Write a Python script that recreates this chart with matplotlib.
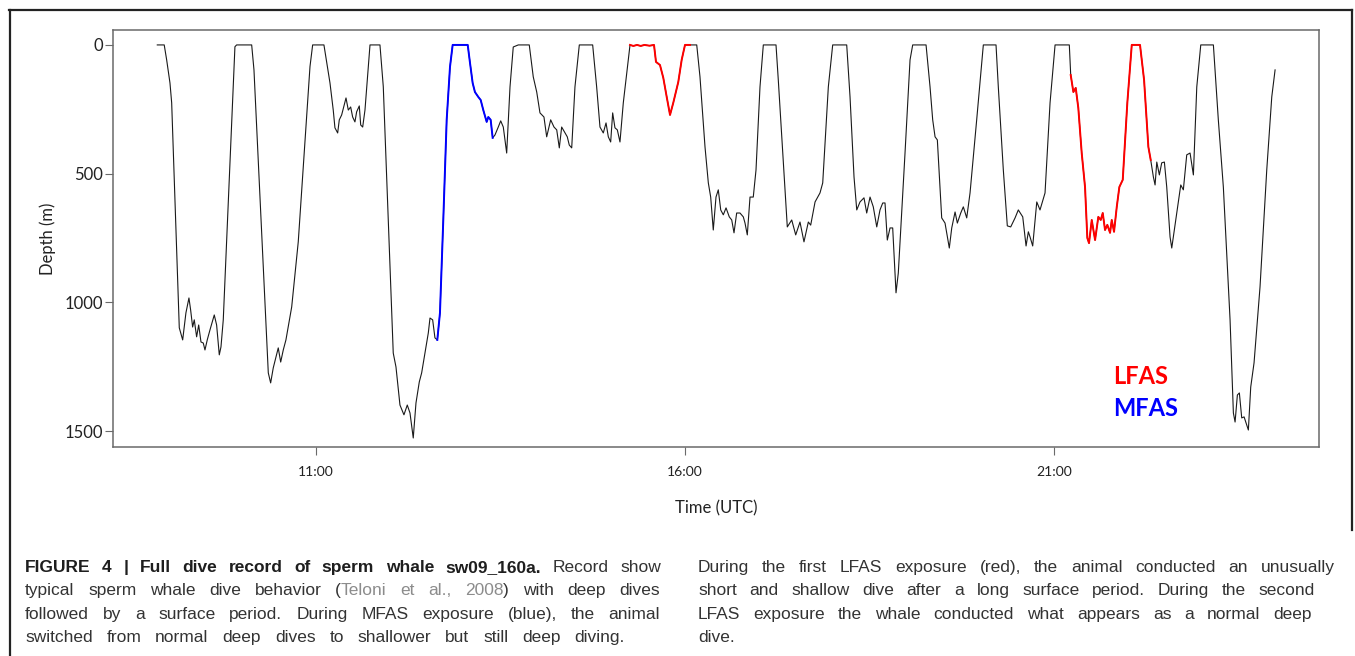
import numpy as np
import matplotlib
matplotlib.use("Agg")
import matplotlib.pyplot as plt
from matplotlib.lines import Line2D
from matplotlib.ticker import FixedLocator, FuncFormatter

# === Data: dive record of sw09_160a (time in decimal hours UTC, depth in m) ===
time_h = [
    # dive 1
    8.850, 8.944, 8.977, 9.022, 9.045, 9.148, 9.194, 9.238, 9.279, 9.302, 9.329, 9.351,
    9.383, 9.411, 9.442, 9.473, 9.496, 9.527, 9.564, 9.622, 9.654, 9.690, 9.713, 9.744,
    9.902, 9.925, 10.129,
    # dive 2
    10.160, 10.354, 10.386, 10.421, 10.489, 10.522, 10.557, 10.593, 10.671, 10.760,
    10.919, 10.955, 11.108,
    # dive 3
    11.190, 11.234, 11.257, 11.294, 11.316, 11.348, 11.407, 11.438, 11.470, 11.497,
    11.528, 11.551, 11.587, 11.606, 11.633, 11.664, 11.732, 11.867,
    # dive 4 (MFAS during ascent)
    11.912, 11.980, 12.047, 12.084, 12.138, 12.192, 12.237, 12.274, 12.318, 12.355,
    12.400, 12.432, 12.477, 12.522, 12.545, 12.581, 12.612, 12.644,
    12.680, 12.725, 12.771, 12.816, 12.852, 13.056, 13.087, 13.123, 13.154, 13.199,
    13.232, 13.267, 13.313, 13.335, 13.367, 13.394,
    13.425, 13.470, 13.503, 13.538, 13.584, 13.629, 13.673, 13.741, 13.890,
    # dive 5
    13.944, 13.991, 14.035, 14.089, 14.126, 14.180, 14.225, 14.262, 14.297, 14.329,
    14.374, 14.405, 14.432, 14.465, 14.509, 14.568, 14.749,
    # dive 6
    14.803, 14.848, 14.893, 14.930, 14.961, 14.993, 15.020, 15.051, 15.083, 15.119,
    15.164, 15.255,
    # first LFAS: short shallow dive
    15.300, 15.350, 15.400, 15.450, 15.520, 15.580, 15.607, 15.661, 15.706, 15.752,
    15.797, 15.841, 15.909, 15.955, 16.000, 16.068,
    # dive 7
    16.159, 16.203, 16.271, 16.316, 16.348, 16.383, 16.420, 16.451, 16.484, 16.519,
    16.556, 16.600, 16.633, 16.664, 16.700, 16.745, 16.790, 16.813, 16.844, 16.881,
    16.925, 16.962, 17.016, 17.061, 17.233,
    # dive 8
    17.264, 17.332, 17.386, 17.446, 17.500, 17.558, 17.612, 17.671, 17.703, 17.762,
    17.829, 17.866, 17.942, 18.001, 18.191,
    # dive 9
    18.236, 18.290, 18.327, 18.371, 18.425, 18.462, 18.507, 18.551, 18.598, 18.642,
    18.679, 18.710, 18.741, 18.778, 18.814, 18.859, 18.890, 18.981, 19.049, 19.085,
    19.266,
    # dive 10
    19.320, 19.356, 19.388, 19.419, 19.478, 19.523, 19.581, 19.614, 19.659, 19.690,
    19.736, 19.771, 19.817, 19.862, 19.952, 20.042, 20.214,
    # dive 11
    20.245, 20.313, 20.367, 20.413, 20.472, 20.516, 20.576, 20.621, 20.652, 20.675,
    20.711, 20.766, 20.810, 20.878, 20.946, 21.014, 21.207,
    # second LFAS
    21.226, 21.262, 21.294, 21.329, 21.375, 21.420, 21.451, 21.474, 21.511, 21.556,
    21.600, 21.633, 21.660, 21.691, 21.722, 21.759, 21.782, 21.813, 21.850, 21.885,
    21.931, 21.993, 22.053, 22.165, 22.220, 22.278, 22.310,
    # dive 12
    22.346, 22.369, 22.392, 22.427, 22.459, 22.495, 22.527, 22.572, 22.595, 22.663,
    22.717, 22.752, 22.798, 22.843, 22.888, 22.934, 22.988, 23.159,
    # dive 13
    23.226, 23.294, 23.385, 23.430, 23.453, 23.484, 23.511, 23.543, 23.575, 23.611,
    23.633, 23.665, 23.710, 23.791, 23.882, 23.950, 23.995,
]

depth_m = [
    # dive 1
    0, 0, 58, 148, 225, 1099, 1146, 1041, 983, 1030, 1096, 1068,
    1134, 1088, 1154, 1158, 1185, 1146, 1107, 1049, 1088, 1204, 1173, 1068,
    7, 0, 0,
    # dive 2
    97, 1274, 1313, 1255, 1177, 1232, 1185, 1146, 1018, 765,
    84, 0, 0,
    # dive 3
    148, 253, 322, 342, 291, 272, 206, 253, 241, 280,
    299, 260, 237, 311, 319, 253, 0, 0,
    # dive 4
    162, 680, 1197, 1251, 1399, 1437, 1399, 1430, 1527, 1391,
    1309, 1274, 1197, 1119, 1061, 1068, 1138, 1146,
    1041, 680, 291, 85, 0, 0, 70, 148, 183, 202,
    214, 253, 299, 280, 291, 361,
    350, 319, 295, 319, 420, 163, 8, 0, 0,
    # dive 5
    124, 183, 264, 280, 357, 291, 319, 330, 400, 319,
    342, 357, 389, 400, 163, 0, 0,
    # dive 6
    163, 319, 342, 303, 357, 377, 264, 322, 330, 377,
    225, 0,
    # first LFAS
    4, 0, 4, 0, 3, 0, 66, 78, 128, 202,
    272, 225, 144, 58, 0, 0,
    # dive 7
    0, 124, 396, 536, 591, 719, 591, 563, 641, 660,
    633, 668, 680, 730, 653, 653, 668, 692, 738, 591,
    591, 486, 163, 0, 0,
    # dive 8
    136, 458, 707, 680, 738, 688, 765, 688, 700, 610,
    575, 536, 163, 0, 0,
    # dive 9
    202, 513, 641, 610, 594, 653, 591, 629, 707, 641,
    614, 614, 758, 711, 711, 963, 886, 420, 58, 0,
    0,
    # dive 10
    163, 291, 357, 369, 672, 692, 789, 711, 649, 692,
    653, 629, 672, 575, 291, 0, 0,
    # dive 11
    163, 486, 703, 707, 672, 641, 668, 781, 726, 746,
    781, 610, 641, 575, 225, 0, 0,
    # second LFAS
    117, 183, 167, 245, 420, 552, 750, 770, 680, 758,
    668, 680, 653, 719, 699, 730, 680, 726, 629, 552,
    524, 225, 0, 0, 136, 396, 447,
    # dive 12
    513, 544, 455, 505, 458, 455, 552, 746, 789, 653,
    544, 563, 427, 420, 505, 163, 0, 0,
    # dive 13
    291, 552, 1068, 1430, 1465, 1360, 1352, 1449, 1445, 1476,
    1496, 1329, 1235, 940, 486, 202, 97,
]

mfas_windows = [(12.644, 13.394)]
lfas_windows = [(15.255, 16.068), (21.226, 22.310)]

tick_hours = [11, 16, 21]
depth_ticks = [0, 500, 1000, 1500]

W, H = 1355, 656
t = np.array(time_h)
d = np.array(depth_m)

fig = plt.figure(figsize=(W / 100, H / 100), dpi=100)
ax = fig.add_axes([113 / W, 1 - 447 / H, (1319 - 113) / W, (447 - 30) / H])

# === Profile ===
ax.plot(t, d, color="#1a1a1a", lw=0.8)
for a, b in mfas_windows:
    m = (t >= a) & (t <= b)
    ax.plot(t[m], d[m], color="#0000ff", lw=1.4)
for a, b in lfas_windows:
    m = (t >= a) & (t <= b)
    ax.plot(t[m], d[m], color="#ff0000", lw=1.4)

ax.set_xlim(8.25, 24.59)
ax.set_ylim(1562, -58)
ax.xaxis.set_major_locator(FixedLocator(tick_hours))
ax.xaxis.set_major_formatter(FuncFormatter(lambda v, p: f"{int(v)}:00"))
ax.set_yticks(depth_ticks)

for s in ax.spines.values():
    s.set_color("#6a6a6a")
    s.set_linewidth(1.1)
ax.tick_params(axis="x", length=6, width=0.8, color="#6a6a6a", pad=8,
               labelsize=10, labelcolor="#222222")
ax.tick_params(axis="y", length=6, width=0.8, color="#6a6a6a", pad=1,
               labelsize=12, labelcolor="#222222")
for lab in ax.get_xticklabels() + ax.get_yticklabels():
    lab.set_family("Lato")

ax.set_xlabel("Time (UTC)", family="Lato", fontsize=12, color="#222222", labelpad=16)
ax.set_ylabel("Depth (m)", family="Lato", fontsize=12, color="#222222", labelpad=6)

# legend-like labels, positioned in figure pixels
fig.text(1113 / W, 1 - 377 / H, "LFAS", color="#ff0000", family="Lato",
         fontweight="bold", fontsize=17, va="center", ha="left")
fig.text(1113 / W, 1 - 409 / H, "MFAS", color="#0000ff", family="Lato",
         fontweight="bold", fontsize=17, va="center", ha="left")

# === Outer frame ===
fc = "#222222"
fig.add_artist(Line2D([9.5 / W, 9.5 / W], [0, 1 - 10 / H], transform=fig.transFigure, color=fc, lw=1.6))
fig.add_artist(Line2D([9 / W, 1352 / W], [1 - 10 / H, 1 - 10 / H], transform=fig.transFigure, color=fc, lw=1.6))
fig.add_artist(Line2D([1352 / W, 1352 / W], [1 - 10 / H, 1 - 530 / H], transform=fig.transFigure, color=fc, lw=1.6))

# === Caption (justified lines) ===
styles = {
    "b": dict(color="#1e1e1e", fontweight="bold"),
    "n": dict(color="#333333"),
    "g": dict(color="#8c8c8c"),
}
cap_font = dict(family="Liberation Sans", fontsize=12.5)

left_col = [
    [[("FIGURE", "b")], [("4", "b")], [("|", "b")], [("Full", "b")], [("dive", "b")],
     [("record", "b")], [("of", "b")], [("sperm", "b")], [("whale", "b")],
     [("sw09_160a.", "b")], [("Record", "n")], [("show", "n")]],
    [[("typical", "n")], [("sperm", "n")], [("whale", "n")], [("dive", "n")],
     [("behavior", "n")], [("(", "n"), ("Teloni", "g")], [("et", "g")], [("al.,", "g")],
     [("2008", "g"), (")", "n")], [("with", "n")], [("deep", "n")], [("dives", "n")]],
    [[(w, "n")] for w in "followed by a surface period. During MFAS exposure (blue), the animal".split()],
    [[(w, "n")] for w in "switched from normal deep dives to shallower but still deep diving.".split()],
]
right_col = [
    [[(w, "n")] for w in "During the first LFAS exposure (red), the animal conducted an unusually".split()],
    [[(w, "n")] for w in "short and shallow dive after a long surface period. During the second".split()],
    [[(w, "n")] for w in "LFAS exposure the whale conducted what appears as a normal deep".split()],
    [[(w, "n")] for w in "dive.".split()],
]
baselines = [572, 595, 619, 642]
left_edges = (25, [661, 660, 660, 625])
right_edges = (698, [1335, 1315, 1312, None])

renderer = fig.canvas.get_renderer()


def draw_line(words, x0, x1, y):
    arts = []
    widths = []
    for word in words:
        pieces = []
        ww = 0
        for txt, st in word:
            a = fig.text(0, 0, txt, va="baseline", ha="left", **cap_font, **styles[st])
            w = a.get_window_extent(renderer).width
            pieces.append((a, w))
            ww += w
        arts.append(pieces)
        widths.append(ww)
    if x1 is None or len(words) < 2:
        gap = 6
    else:
        gap = (x1 - x0 - sum(widths)) / (len(words) - 1)
    x = x0
    for pieces, ww in zip(arts, widths):
        px = x
        for a, w in pieces:
            a.set_position((px / W, 1 - y / H))
            px += w
        x += ww + gap


for (x0, ends), col in [(left_edges, left_col), (right_edges, right_col)]:
    for words, x1, y in zip(col, ends, baselines):
        draw_line(words, x0, x1, y)

fig.savefig("out.png", dpi=100)
